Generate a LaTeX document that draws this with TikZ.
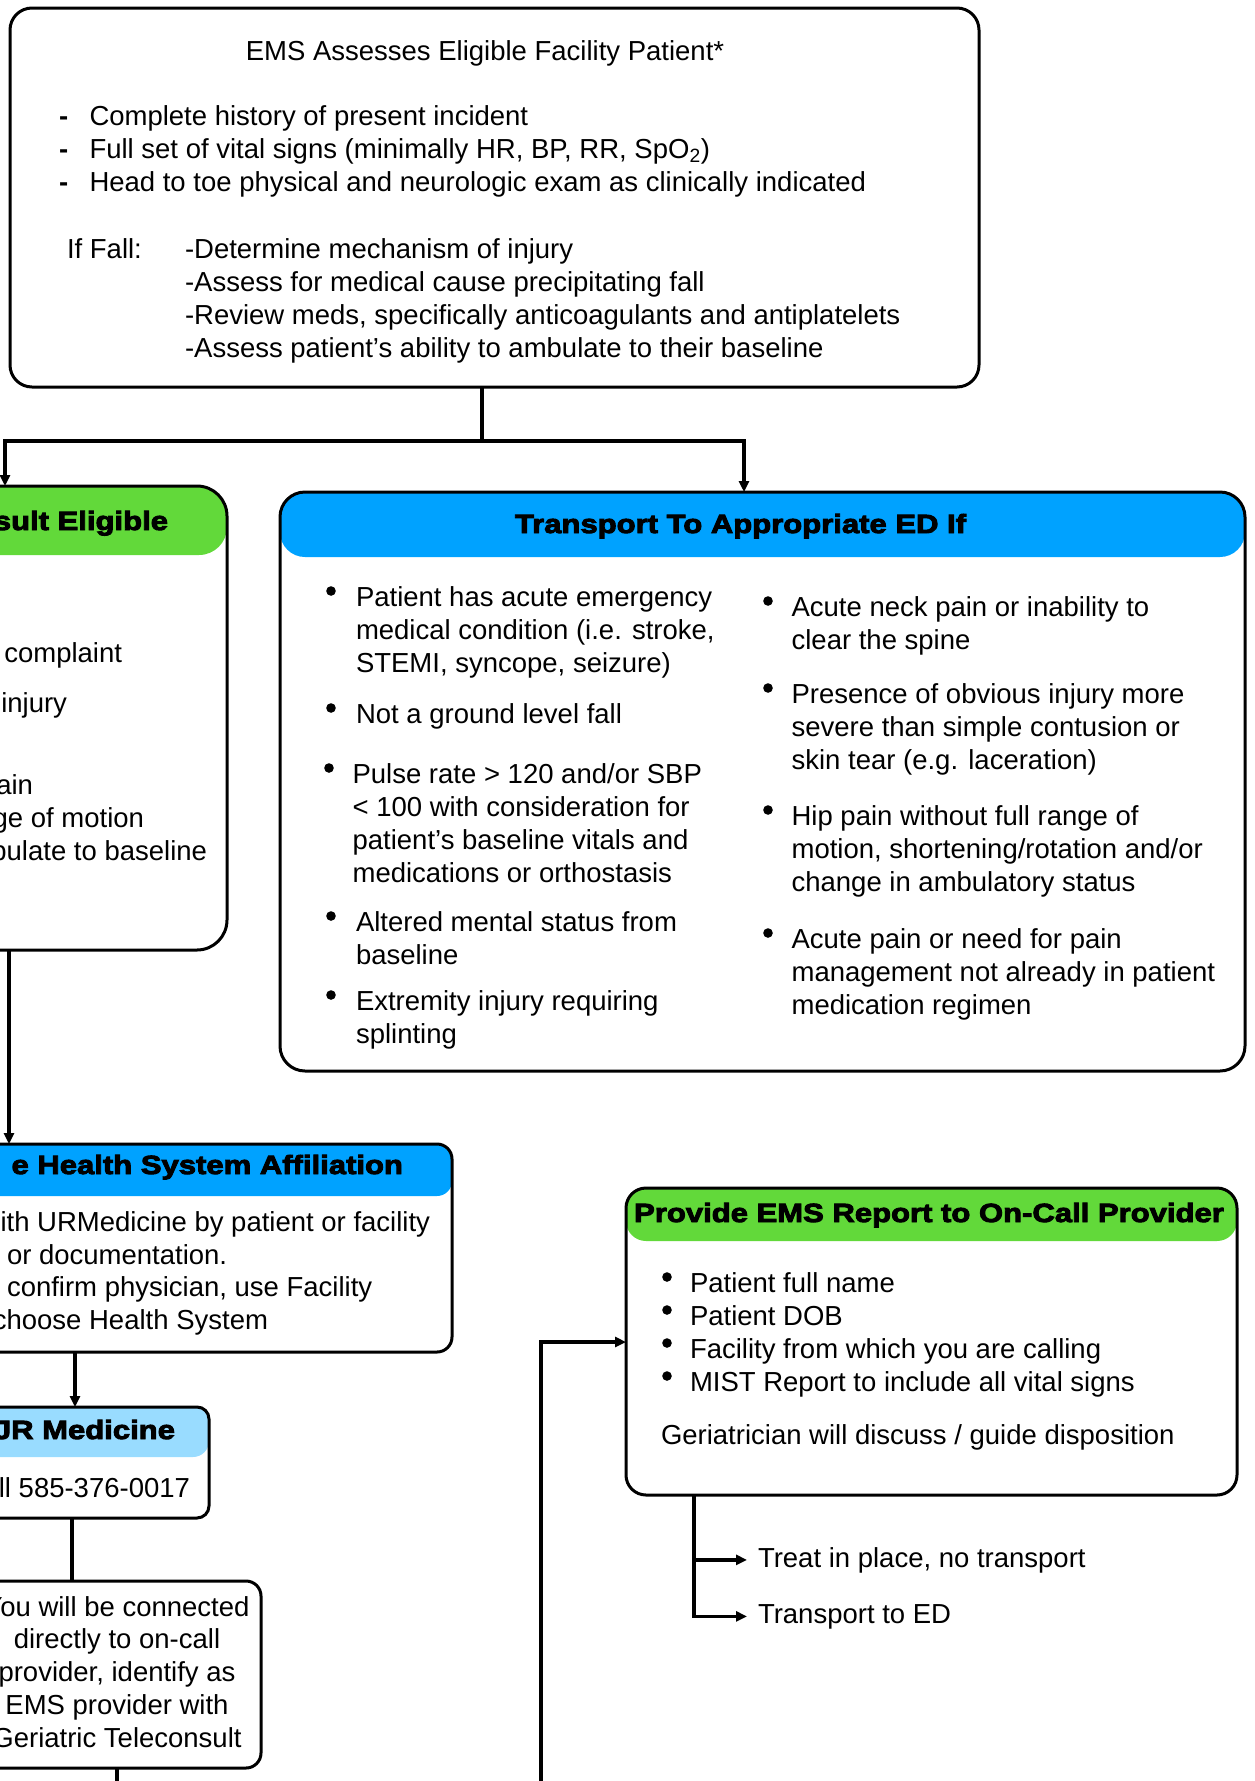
\documentclass[tikz,border=0pt]{standalone}
\usepackage{fontspec}
\setmainfont{Liberation Sans}
\newfontfamily\heavyfont[FakeStretch=1.18,FakeBold=3.5]{Liberation Sans}
\usetikzlibrary{arrows.meta}
\definecolor{hblue}{RGB}{0,162,255}
\definecolor{hgreen}{RGB}{98,217,58}
\definecolor{hlblue}{RGB}{153,220,255}
\newcommand\bodyfont{\fontsize{27.5}{33}\selectfont}
\newcommand\hdfont{\heavyfont\bfseries\fontsize{26.3}{30}\selectfont}
\newcommand\lns[1]{\begin{tabular}[t]{@{}l@{}}#1\end{tabular}}
\newcommand\clns[1]{\begin{tabular}[t]{@{}c@{}}#1\end{tabular}}
\begin{document}
\begin{tikzpicture}[x=1pt,y=-1pt,
  box/.style={draw, line width=3pt, rounded corners=#1, inner sep=0pt, outer sep=0pt},
  txt/.style={inner sep=0pt, outer sep=0pt, font=\bodyfont},
  hdr/.style={inner sep=0pt, outer sep=0pt, font=\hdfont},
  conn/.style={line width=3.2pt},
  arr/.style={-{Triangle[length=11pt,width=10pt]}},
  dot/.style={fill=black}]
\useasboundingbox (0,0) rectangle (1254,1781);
\clip (0,0) rectangle (1254,1781);

% ---------- header bands ----------
\fill[hgreen, rounded corners=28pt] (-300,486) rectangle (227,555);
\fill[hblue, rounded corners=25pt] (280,492) rectangle (1245,557);
\fill[hblue, rounded corners=15pt] (-300,1144) rectangle (452,1196);
\fill[hlblue, rounded corners=16pt] (-200,1407) rectangle (209,1457);
\fill[hgreen, rounded corners=20pt] (626,1188) rectangle (1237,1241);

% ---------- boxes ----------
\node[box=22pt, minimum width=969pt, minimum height=379pt] (top) at (494.5,197.5) {};
\node[box=30pt, minimum width=527pt, minimum height=464pt] (elig) at (-36.5,718) {};
\node[box=25pt, minimum width=965pt, minimum height=579pt] (trans) at (762.5,781.5) {};
\node[box=15pt, minimum width=752pt, minimum height=208pt] (health) at (76,1248) {};
\node[box=12pt, minimum width=409pt, minimum height=111pt] (ur) at (4.5,1462.5) {};
\node[box=15pt, minimum width=288pt, minimum height=187pt] (cbox) at (117,1674.5) {};
\node[box=20pt, minimum width=611pt, minimum height=307pt] (prov) at (931.5,1341.5) {};

% ---------- top box text ----------
\node[txt, anchor=base] (ttl) at (485,60) {EMS Assesses Eligible Facility Patient*};
\node[txt, anchor=base west] (tdash) at (59,125) {\lns{\textbf{-}\\\textbf{-}\\\textbf{-}}};
\node[txt, anchor=base west] (tlist) at (89.5,125) {\lns{Complete history of present incident\\Full set of vital signs (minimally HR, BP, RR, SpO\textsubscript{2})\\Head to toe physical and neurologic exam as clinically indicated}};
\node[txt, anchor=base west] (ifall) at (67,258) {If Fall:};
\node[txt, anchor=base west] (flist) at (185,258) {\lns{-Determine mechanism of injury\\-Assess for medical cause precipitating fall\\-Review meds, specifically anticoagulants and antiplatelets\\-Assess patient’s ability to ambulate to their baseline}};

% ---------- eligible box (cropped) ----------
\node[hdr, anchor=base east] (eligh) at (168,530) {sult Eligible};
\node[txt, anchor=base east] (e1) at (122,662) {complaint};
\node[txt, anchor=base east] (e2) at (67,712) {injury};
\node[txt, anchor=base east] (e3) at (33,794) {ain};
\node[txt, anchor=base east] (e4) at (144,827) {ge of motion};
\node[txt, anchor=base east] (e5) at (207,860) {bulate to baseline};

% ---------- transport box ----------
\node[hdr, anchor=base] (transh) at (740.5,533) {Transport To Appropriate ED If};
\fill[dot] (331,591) circle (4.8pt);
\fill[dot] (331,708) circle (4.8pt);
\fill[dot] (329,768) circle (4.8pt);
\fill[dot] (331,916) circle (4.8pt);
\fill[dot] (331,995) circle (4.8pt);
\node[txt, anchor=base west] (l1) at (356,606) {\lns{Patient has acute emergency\\medical condition (i.e. stroke,\\STEMI, syncope, seizure)}};
\node[txt, anchor=base west] (l2) at (356,723) {Not a ground level fall};
\node[txt, anchor=base west] (l3) at (352.6,783) {\lns{Pulse rate > 120 and/or SBP\\< 100 with consideration for\\patient’s baseline vitals and\\medications or orthostasis}};
\node[txt, anchor=base west] (l4) at (356,931) {\lns{Altered mental status from\\baseline}};
\node[txt, anchor=base west] (l5) at (356,1010) {\lns{Extremity injury requiring\\splinting}};
\fill[dot] (768,601) circle (4.8pt);
\fill[dot] (768,688) circle (4.8pt);
\fill[dot] (768,810) circle (4.8pt);
\fill[dot] (768,933) circle (4.8pt);
\node[txt, anchor=base west] (r1) at (791.6,616) {\lns{Acute neck pain or inability to\\clear the spine}};
\node[txt, anchor=base west] (r2) at (791.6,703) {\lns{Presence of obvious injury more\\severe than simple contusion or\\skin tear (e.g. laceration)}};
\node[txt, anchor=base west] (r3) at (791.6,825) {\lns{Hip pain without full range of\\motion, shortening/rotation and/or\\change in ambulatory status}};
\node[txt, anchor=base west] (r4) at (791.6,948) {\lns{Acute pain or need for pain\\management not already in patient\\medication regimen}};

% ---------- health box (cropped) ----------
\node[hdr, anchor=base east] (healthh) at (403,1174) {e Health System Affiliation};
\node[txt, anchor=base east] (h1) at (430,1231) {ith URMedicine by patient or facility};
\node[txt, anchor=base west] (h2) at (7,1264) {or documentation.};
\node[txt, anchor=base west] (h3) at (7,1296) {confirm physician, use Facility};
\node[txt, anchor=base east] (h4) at (268,1329) {choose Health System};

% ---------- UR box (cropped) ----------
\node[hdr, anchor=base east] (urh) at (175,1439) {JR Medicine};
\node[txt, anchor=base east] (u1) at (190,1497) {ll 585-376-0017};

% ---------- connected box ----------
\node[txt, anchor=base, font=\fontsize{27.5}{32.8}\selectfont] (c1) at (117,1616) {\clns{You will be connected\\directly to on-call\\provider, identify as\\EMS provider with\\Geriatric Teleconsult}};

% ---------- provide box ----------
\node[hdr, anchor=base] (provh) at (929,1222) {Provide EMS Report to On-Call Provider};
\fill[dot] (667,1277) circle (4.8pt);
\fill[dot] (667,1310) circle (4.8pt);
\fill[dot] (667,1343) circle (4.8pt);
\fill[dot] (667,1376) circle (4.8pt);
\node[txt, anchor=base west] (p1) at (690,1292) {\lns{Patient full name\\Patient DOB\\Facility from which you are calling\\MIST Report to include all vital signs}};
\node[txt, anchor=base west] (p2) at (661,1444) {Geriatrician will discuss / guide disposition};
\node[txt, anchor=base west] (treat) at (758,1567) {Treat in place, no transport};
\node[txt, anchor=base west] (toed) at (758,1623) {Transport to ED};

% ---------- connectors ----------
\coordinate (j1) at (482,441);
\coordinate (jl) at (5,441);
\coordinate (jr) at (744,441);
\draw[conn] (top.south -| j1) -- (j1);
\draw[conn, arr] (j1) -- (jl) -- (jl |- elig.north);
\draw[conn, arr] (j1) -- (jr) -- (jr |- trans.north);
\coordinate (x2) at (9,1000);
\draw[conn, arr] (elig.south -| x2) -- (health.north -| x2);
\coordinate (x3) at (75,1380);
\draw[conn, arr] (health.south -| x3) -- (ur.north -| x3);
\coordinate (x4) at (72,1550);
\draw[conn] (ur.south -| x4) -- (cbox.north -| x4);
\coordinate (x5) at (117,1795);
\draw[conn] (cbox.south -| x5) -- (x5);
\coordinate (x6) at (541,1795);
\coordinate (x6b) at (541,1342);
\draw[conn, arr] (x6) -- (x6b) -- (prov.west |- x6b);
\coordinate (br) at (694,1540);
\draw[conn, arr] (prov.south -| br) |- ([xshift=-11pt]toed.west);
\draw[conn, arr] (br |- treat.west) -- ([xshift=-11pt]treat.west);
\end{tikzpicture}
\end{document}
